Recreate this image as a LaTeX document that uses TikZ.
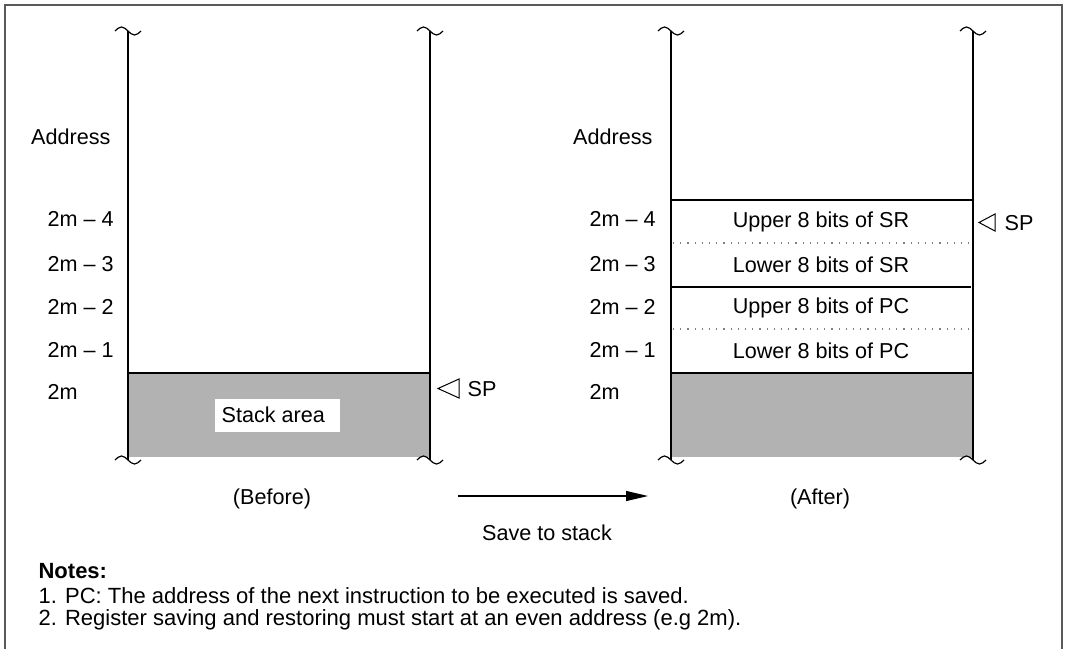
\documentclass[tikz,border=0pt]{standalone}
\usepackage{fontspec}
\setmainfont{Liberation Sans}
\usetikzlibrary{arrows.meta}

\begin{document}
\begin{tikzpicture}[x=0.5pt,y=-0.5pt,line width=0.6pt,
  font=\fontsize{10.8}{13}\selectfont,
  lbl/.style={inner sep=0pt},
  cell/.style={inner sep=0pt},
  note/.style={inner sep=0pt,anchor=west,font=\fontsize{11}{13}\selectfont},
  sepline/.style={gray,line width=0.6pt,dash pattern=on 0.6pt off 3pt},
  spmark/.style={line width=0.5pt}]

\useasboundingbox (0,0) rectangle (1065,649);

% frame
\draw[black!65,line width=1pt] (5,649) -- (5,5) -- (1062,5) -- (1062,649);

% before
\fill[gray!60] (128,373) rectangle (430,457);
\draw (128,373) -- (430,373);
\draw (128,31) -- (128,460); %left
\draw (430,31) -- (430,460); %right
\draw (115,31) sin (121.5,27) cos (128,31) sin (134.5,35) cos (141,31);
\draw (417,31) sin (423.5,27) cos (430,31) sin (436.5,35) cos (443,31);
\draw (115,460) sin (121.5,456) cos (128,460) sin (134.5,464) cos (141,460);
\draw (417,460) sin (423.5,456) cos (430,460) sin (436.5,464) cos (443,460);

\fill[white] (215,399) rectangle (340,432);
\node[lbl,anchor=west] (stk) at (221,415) {Stack area};

% after
\fill[gray!60] (671,373) rectangle (973,457);
\draw (671,373) -- (973,373);
\draw (671,200) -- (973,200);
\draw (671,287) -- (971,287);
\draw[sepline] (673,243) -- (970,243);
\draw[sepline] (673,329) -- (970,329);
\draw (671,31) -- (671,460); %left
\draw (973,31) -- (973,460); %right
\draw (658,31) sin (664.5,27) cos (671,31) sin (677.5,35) cos (684,31);
\draw (960,31) sin (966.5,27) cos (973,31) sin (979.5,35) cos (986,31);
\draw (658,460) sin (664.5,456) cos (671,460) sin (677.5,464) cos (684,460);
\draw (960,460) sin (966.5,456) cos (973,460) sin (979.5,464) cos (986,460);

\node[cell] (usr) at (821,222) {Upper 8 bits of SR};
\node[cell] (lsr) at (821,265) {Lower 8 bits of SR};
\node[cell] (upc) at (821,308) {Upper 8 bits of PC};
\node[cell] (lpc) at (821,351) {Lower 8 bits of PC};

% addresses
\node[lbl,anchor=east] (addrL) at (111,137) {Address};
\node[lbl,anchor=west] (a4L) at (47,219) {2m -- 4};
\node[lbl,anchor=west] (a3L) at (47,264) {2m -- 3};
\node[lbl,anchor=west] (a2L) at (47,307) {2m -- 2};
\node[lbl,anchor=west] (a1L) at (47,350) {2m -- 1};
\node[lbl,anchor=west] (a0L) at (47,392) {2m};

\node[lbl,anchor=east] (addrR) at (653,137) {Address};
\node[lbl,anchor=west] (a4R) at (589,219) {2m -- 4};
\node[lbl,anchor=west] (a3R) at (589,264) {2m -- 3};
\node[lbl,anchor=west] (a2R) at (589,307) {2m -- 2};
\node[lbl,anchor=west] (a1R) at (589,350) {2m -- 1};
\node[lbl,anchor=west] (a0R) at (589,392) {2m};

% stack pointers
\draw[spmark] (459,379) -- (438,388.5) -- (459,398) -- cycle;
\node[lbl,anchor=west] (spL) at (467,389) {SP};
\draw[spmark] (995,214) -- (979,222.5) -- (995,231) -- cycle;
\node[lbl,anchor=west] (spR) at (1004,223) {SP};

% captions
\node[lbl] (before) at (272,499) {(Before)};
\node[lbl] (after) at (820,499) {(After)};
\coordinate (arrS) at (458,496);
\coordinate (arrE) at (648,496);
\draw[-{Triangle[length=11pt,width=5pt]}] (arrS) -- (arrE);
\node[lbl] (save) at (547,533) {Save to stack};

% notes
\node[note,font=\fontsize{11}{13}\selectfont\bfseries] (notes) at (38,571) {Notes:};
\node[note] (n1) at (38,596) {1. PC: The address of the next instruction to be executed is saved.};
\node[note] (n2) at (38,620) {2. Register saving and restoring must start at an even address (e.g 2m).};

\end{tikzpicture}
\end{document}
